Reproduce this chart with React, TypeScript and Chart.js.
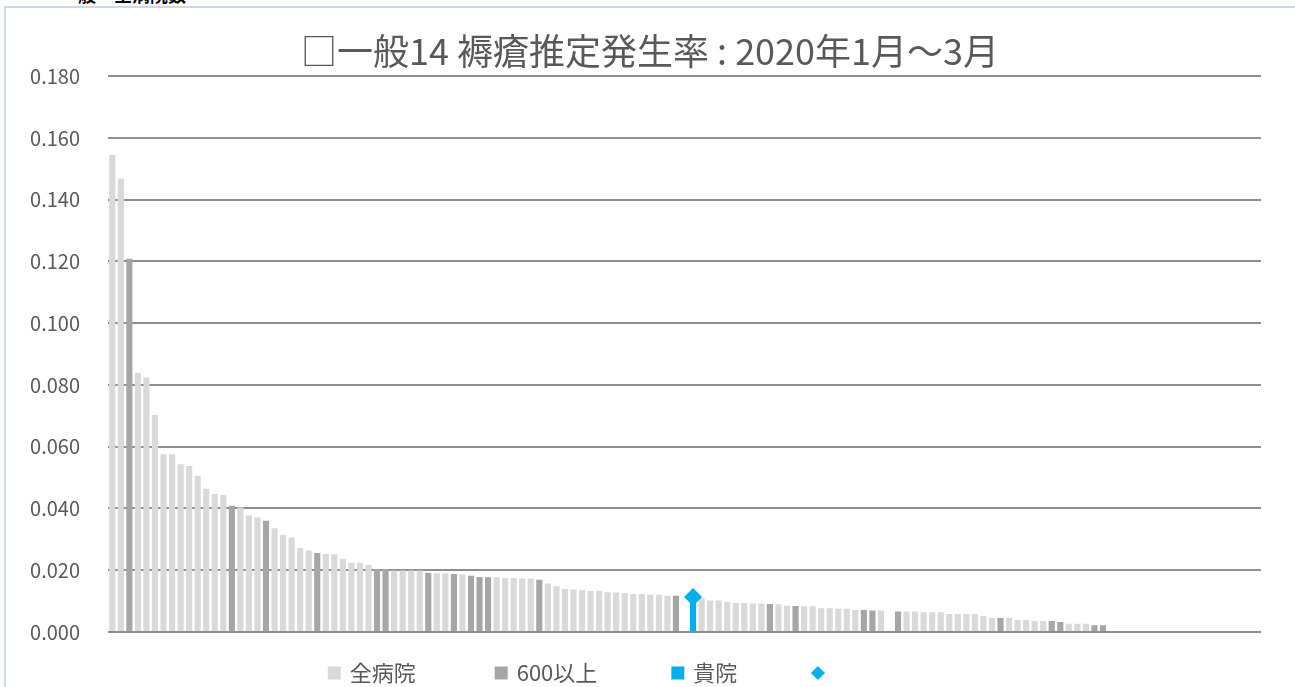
import React, { useEffect, useRef } from "react";
import { Chart, registerables } from "chart.js";

Chart.register(...registerables);

const chartTitle = "□一般14 褥瘡推定発生率 : 2020年1月～3月";
const seriesNames = ["全病院", "600以上", "貴院"];

// rate per hospital, sorted by rank (null = no value / empty category)
const rates: (number | null)[] = [
  0.1545, 0.1468, 0.1209, 0.0839, 0.0824, 0.0703, 0.0576, 0.0576, 0.0543, 0.0538,
  0.0506, 0.0464, 0.0447, 0.0444, 0.0409, 0.0403, 0.0377, 0.0371, 0.0360, 0.0336,
  0.0315, 0.0306, 0.0272, 0.0264, 0.0256, 0.0253, 0.0252, 0.0237, 0.0224, 0.0224,
  0.0217, 0.0204, 0.0204, 0.0199, 0.0199, 0.0199, 0.0199, 0.0192, 0.0190, 0.0190,
  0.0188, 0.0186, 0.0182, 0.0178, 0.0177, 0.0177, 0.0175, 0.0175, 0.0173, 0.0173,
  0.0169, 0.0157, 0.0148, 0.0139, 0.0138, 0.0135, 0.0133, 0.0133, 0.0129, 0.0128,
  0.0126, 0.0123, 0.0123, 0.0121, 0.0121, 0.0117, 0.0117, null, 0.0113, 0.0109,
  0.0102, 0.0102, 0.0097, 0.0094, 0.0094, 0.0092, 0.0092, 0.0091, 0.0090, 0.0085,
  0.0084, 0.0083, 0.0083, 0.0077, 0.0077, 0.0075, 0.0075, 0.0071, 0.0071, 0.0070,
  0.0070, null, 0.0066, 0.0066, 0.0066, 0.0064, 0.0064, 0.0064, 0.0058, 0.0058,
  0.0058, 0.0058, 0.0052, 0.0045, 0.0045, 0.0045, 0.0039, 0.0039, 0.0036, 0.0036,
  0.0036, 0.0032, 0.0027, 0.0027, 0.0027, 0.0022, 0.0022, null, null, null,
  null, null, null, null, null, null, null, null, null, null,
  null, null, null, null, null,
];

// ranks (1-based) of hospitals with 600 beds or more
const largeRanks = [3, 15, 19, 25, 32, 33, 38, 41, 43, 44, 45, 51, 67, 78, 81, 89, 90, 93, 105, 111, 112, 116, 117];
// rank (1-based) of own hospital
const ownRank = 69;

const rankLabels = rates.map((_, i) => String(i + 1));

const yMin = 0;
const yMax = 0.18;
const yStep = 0.02;

const COLOR_ALL = "#d9d9d9";
const COLOR_LARGE = "#a6a6a6";
const COLOR_OWN = "#00b0f0";
const TEXT = "#595959";
const FONT = '"Noto Sans CJK JP", "Noto Sans", sans-serif';

// legend texts padded with spaces to reproduce the spacing of the original legend
const legendTexts = [
  seriesNames[0] + "\u3000\u3000\u3000 ",
  seriesNames[1] + "\u3000\u3000\u3000",
  seriesNames[2] + "\u3000\u3000\u3000",
  "\u3000\u3000\u3000\u3000\u3000\u3000 ",
];

function diamondIcon(size: number, color: string) {
  const c = document.createElement("canvas");
  c.width = size;
  c.height = size;
  const g = c.getContext("2d")!;
  g.fillStyle = color;
  g.beginPath();
  g.moveTo(size / 2, 0);
  g.lineTo(size, size / 2);
  g.lineTo(size / 2, size);
  g.lineTo(0, size / 2);
  g.closePath();
  g.fill();
  return c;
}

export default function App() {
  const ref = useRef<HTMLCanvasElement | null>(null);

  useEffect(() => {
    if (!ref.current) return;
    const isLarge = (i: number) => largeRanks.includes(i + 1);
    const isOwn = (i: number) => i + 1 === ownRank;

    const allData = rates.map((v, i) => (isLarge(i) || isOwn(i) ? null : v));
    const largeData = rates.map((v, i) => (isLarge(i) ? v : null));
    const ownData = rates.map((v, i) => (isOwn(i) ? v : null));
    const legendColors = [COLOR_ALL, COLOR_LARGE, COLOR_OWN, COLOR_OWN];
    const diamond = diamondIcon(14, COLOR_OWN);

    const barCommon = {
      type: "bar" as const,
      grouped: false,
      barPercentage: 0.72,
      categoryPercentage: 1,
      borderWidth: 0,
    };

    const chart = new Chart(ref.current, {
      type: "bar",
      data: {
        labels: rankLabels,
        datasets: [
          { ...barCommon, label: seriesNames[0], data: allData, backgroundColor: COLOR_ALL },
          { ...barCommon, label: seriesNames[1], data: largeData, backgroundColor: COLOR_LARGE },
          { ...barCommon, label: seriesNames[2], data: ownData, backgroundColor: COLOR_OWN },
          {
            type: "line" as const,
            label: "",
            data: ownData,
            showLine: false,
            pointStyle: "rectRot",
            pointRadius: 9,
            pointHoverRadius: 9,
            backgroundColor: COLOR_OWN,
            borderColor: COLOR_OWN,
            borderWidth: 0,
            order: -1,
          } as any,
        ],
      },
      options: {
        animation: false,
        responsive: false,
        devicePixelRatio: 1,
        layout: { padding: { left: 0, right: 0, top: 0, bottom: 0 } },
        plugins: {
          tooltip: { enabled: false },
          title: {
            display: true,
            text: chartTitle,
            color: TEXT,
            font: { family: FONT, size: 36, weight: "normal" },
            padding: { top: 23, bottom: 3 },
          },
          legend: {
            display: true,
            position: "bottom",
            labels: {
              usePointStyle: true,
              boxWidth: 9,
              boxHeight: 13,
              padding: 10,
              color: TEXT,
              font: { family: FONT, size: 22 },
              generateLabels: (c: any) =>
                c.data.datasets.map((ds: any, i: number) => ({
                  text: legendTexts[i],
                  fillStyle: legendColors[i],
                  strokeStyle: "rgba(0,0,0,0)",
                  lineWidth: 0,
                  pointStyle: i === 3 ? diamond : "rect",
                  hidden: !c.isDatasetVisible(i),
                  datasetIndex: i,
                  fontColor: TEXT,
                })),
            },
          },
        },
        scales: {
          x: {
            display: true,
            grid: { display: false },
            ticks: { display: false },
            border: { display: false },
            afterFit: (s: any) => {
              s.height = 20;
            },
          },
          y: {
            min: yMin,
            max: yMax,
            position: "left",
            ticks: {
              stepSize: yStep,
              padding: 28,
              color: TEXT,
              font: { family: FONT, size: 20 },
              callback: (v: any) => Number(v).toFixed(3),
            },
            grid: { color: "#8e8e8e", lineWidth: 2, drawTicks: false },
            border: { display: false },
            afterFit: (s: any) => {
              s.width = 103;
            },
          },
          yRight: {
            type: "linear",
            position: "right",
            display: true,
            grid: { display: false },
            ticks: { display: false },
            border: { display: false },
            afterFit: (s: any) => {
              s.width = 34;
            },
          },
        },
      } as any,
    });
    return () => chart.destroy();
  }, []);

  return (
    <div
      style={{
        position: "fixed",
        left: 0,
        top: 0,
        width: 1295,
        height: 687,
        overflow: "hidden",
        background: "#ffffff",
      }}
    >
      <div
        style={{
          position: "absolute",
          left: 60,
          top: -19,
          fontFamily: FONT,
          fontWeight: "bold",
          fontSize: 18,
          color: "#000",
          whiteSpace: "nowrap",
        }}
      >
        一般　全病院数
      </div>
      <div
        style={{
          position: "absolute",
          left: 4,
          top: 6,
          width: 1400,
          height: 800,
          border: "2px solid #cbd9ec",
          boxSizing: "border-box",
        }}
      />
      <canvas
        ref={ref}
        width={1290}
        height={687}
        style={{ position: "absolute", left: 5, top: 7, width: 1290, height: 687 }}
      />
    </div>
  );
}
